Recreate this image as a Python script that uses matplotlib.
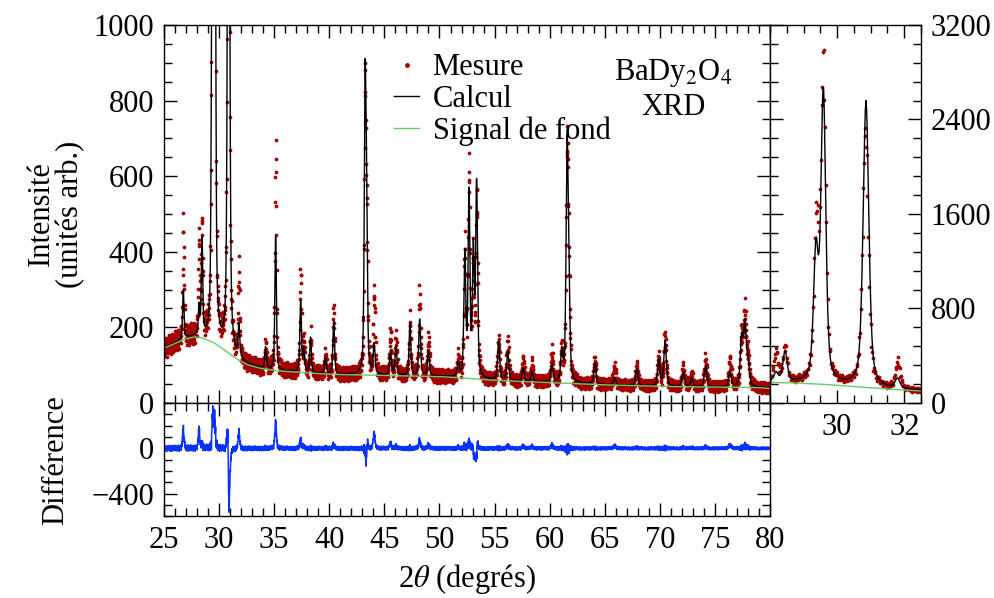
import numpy as np
import matplotlib
matplotlib.use("Agg")
import matplotlib.pyplot as plt
from matplotlib.ticker import MultipleLocator, FixedLocator

plt.rcParams["font.family"] = ["Liberation Serif", "DejaVu Serif"]
plt.rcParams["mathtext.fontset"] = "stix"

# balayage 2theta (degres)
debut, fin, pas = 25.0, 80.0, 0.02

# signal de fond (courbe verte)
fond_x = [25.0, 26.0, 27.0, 27.8, 28.5, 29.5, 30.5, 31.5, 32.5, 33.7, 35.0, 37.3,
          40.0, 45.0, 50.0, 52.0, 55.0, 61.0, 65.0, 70.0, 75.0, 79.0, 80.0]
fond_y = [145, 158, 170, 175, 172, 160, 140, 118, 102, 92, 86, 81,
          76, 73, 70, 66, 60, 53, 48, 44, 42, 41, 38]

# pics : position, amplitude calculee, amplitude mesuree, decalage mesure, largeur
pics_pos = [26.75, 28.18, 28.45, 29.37, 29.59, 30.86, 31.80, 34.22, 35.13, 37.40,
            37.70, 38.30, 39.65, 40.40, 43.25, 43.38, 44.07, 45.55, 46.05, 47.32,
            48.20, 49.00, 51.70, 52.30, 52.68, 53.07, 53.37, 55.37, 56.20, 57.60,
            58.40, 60.20, 61.10, 61.58, 61.74, 64.10, 65.90, 67.90, 69.90, 70.47,
            72.12, 72.90, 74.15, 76.36, 77.42, 77.72, 78.00]
pics_calc = [131, 75, 255, 1060, 2450, 2420, 83, 56, 357, 186,
             60, 93, 41, 139, 720, 380, 79, 63, 77, 138,
             149, 65, 34, 321, 480, 330, 510, 102, 77, 33,
             25, 46, 78, 595, 220, 56, 20, 44, 70, 121,
             37, 23, 56, 38, 126, 159, 60]
pics_mes = [300, 250, 290, 1300, 2700, 2150, 220, 60, 590, 260,
            75, 95, 50, 170, 740, 320, 215, 110, 95, 140,
            215, 95, 45, 338, 540, 300, 470, 105, 100, 55,
            45, 76, 80, 590, 220, 60, 45, 50, 72, 127,
            45, 30, 67, 67, 130, 183, 65]
pics_dec = [0, 0, 0, 0.01, 0, -0.02, 0, 0, 0, 0,
            0, 0, 0, 0, 0, 0.03, 0, 0, 0, 0,
            0, 0, 0, 0, 0, -0.02, 0.02, 0, 0, 0,
            0, 0, 0, 0, 0, 0, 0, 0, 0, 0,
            0, 0, 0, 0, 0, 0, 0]
pics_larg = [0.15, 0.15, 0.15, 0.17, 0.17, 0.20, 0.17, 0.17, 0.16, 0.17,
             0.17, 0.17, 0.18, 0.18, 0.18, 0.18, 0.19, 0.19, 0.19, 0.19,
             0.20, 0.20, 0.21, 0.20, 0.20, 0.20, 0.20, 0.22, 0.22, 0.22,
             0.22, 0.23, 0.23, 0.22, 0.22, 0.24, 0.25, 0.25, 0.26, 0.26,
             0.27, 0.27, 0.28, 0.28, 0.28, 0.28, 0.28]

# ecarts de comptage (coups) releves dans la bande de points autour de la ligne de base
bruit = [6, -11, 14, -3, -18, 9, 2, -7, 17, -13, 4, 11, -20, 8, -5, 15, -9, 1,
         -15, 12, -2, 19, -12, 5, -6, 10, -16, 3, 13, -8, -1, 16, -19, 7, -4, 11,
         -14, 2, 18, -10, 6, -17, 9, 0, -7, 14, -12, 4, 20, -9, -3, 12, -15, 8,
         -5, 15, -11, 1, 10, -18, 5, -2, 13, -8, 17, -14, 3, -6, 9, -20, 11, -1, 7]


def pseudo_voigt(x, x0, w):
    u = (x - x0) / w
    return 0.5 / (1 + 4 * u ** 2) + 0.5 * np.exp(-4 * np.log(2) * u ** 2)


x = np.arange(debut, fin + pas / 2, pas)
fond = np.interp(x, fond_x, fond_y)
calc = fond.copy()
mes = fond.copy()
for p, hc, hm, d, w in zip(pics_pos, pics_calc, pics_mes, pics_dec, pics_larg):
    calc += hc * pseudo_voigt(x, p, w)
    mes += hm * pseudo_voigt(x, p + d, w)
mes = mes + np.resize(bruit, x.size) * np.sqrt(mes / 80.0)
diff = mes - calc

fig = plt.figure(figsize=(9.94, 5.98), dpi=100)
ax = fig.add_axes([0.165, 0.3261, 0.6097, 0.6321])
axi = fig.add_axes([0.7746, 0.3261, 0.152, 0.6321])
axd = fig.add_axes([0.165, 0.1363, 0.6097, 0.1898])

rouge = "#a30000"
vert = "#66cc66"
fs = 22

for a in (ax, axi):
    a.plot(x, mes, "o", ms=2.7, mew=0, color=rouge, label="Mesure")
    a.plot(x, calc, "-", lw=1.0, color="black", label="Calcul")
    a.plot(np.r_[debut, x], np.r_[0, fond], "-", lw=1.0, color=vert, label="Signal de fond")

axd.plot(x, diff, "-", lw=1.1, color="#0a32ff")

ax.set_xlim(25, 80)
ax.set_ylim(0, 1000)
axd.set_xlim(25, 80)
axd.set_ylim(-600, 400)
axi.set_xlim(28, 32.5)
axi.set_ylim(0, 3200)

ax.xaxis.set_major_locator(MultipleLocator(5))
ax.xaxis.set_minor_locator(MultipleLocator(1))
ax.yaxis.set_major_locator(MultipleLocator(200))
ax.yaxis.set_minor_locator(MultipleLocator(50))
axd.xaxis.set_major_locator(MultipleLocator(5))
axd.xaxis.set_minor_locator(MultipleLocator(1))
axd.yaxis.set_major_locator(FixedLocator([-400, 0]))
axd.yaxis.set_minor_locator(MultipleLocator(100))
axi.xaxis.set_major_locator(FixedLocator([30, 32]))
axi.xaxis.set_minor_locator(MultipleLocator(0.5))
axi.yaxis.set_major_locator(MultipleLocator(800))
axi.yaxis.set_minor_locator(MultipleLocator(160))

for a in (ax, axi, axd):
    a.tick_params(which="both", direction="in", top=True, bottom=True,
                  left=True, right=True, width=1.0, labelsize=fs, pad=7)
    a.tick_params(which="major", length=9.5)
    a.tick_params(which="minor", length=5.5)
    for s in a.spines.values():
        s.set_linewidth(1.0)

ax.tick_params(labelbottom=False)
axi.tick_params(labelleft=False, labelright=True)

ax.set_ylabel("Intensité\n(unités arb.)", fontsize=fs, linespacing=1.0)
ax.yaxis.set_label_coords(-0.13, 0.5)
axd.set_ylabel("Différence", fontsize=fs)
axd.yaxis.set_label_coords(-0.155, 0.5)
axd.set_xlabel(r"2$\theta$ (degrés)", fontsize=fs)
axd.xaxis.set_label_coords(0.5, -0.40)

ax.legend(loc="upper left", bbox_to_anchor=(0.38, 0.925), frameon=False,
          fontsize=fs, handlelength=0.8, handletextpad=0.45, labelspacing=0.08,
          borderpad=0, borderaxespad=0, markerscale=1.3)

ax.text(0.84, 0.873, r"BaDy$_2$O$_4$", transform=ax.transAxes, fontsize=fs,
        ha="center", va="center")
ax.text(0.84, 0.783, "XRD", transform=ax.transAxes, fontsize=fs,
        ha="center", va="center")

fig.savefig("out.png", dpi=100)
